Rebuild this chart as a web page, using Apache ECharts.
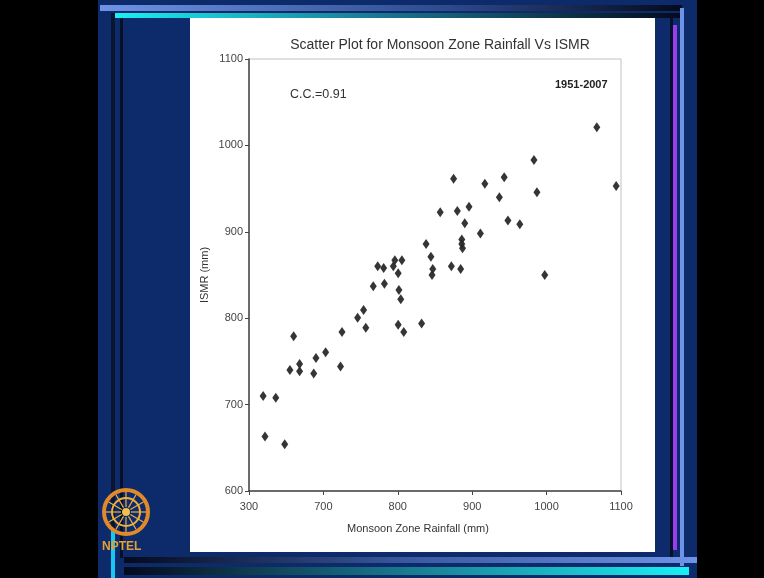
<!DOCTYPE html>
<html>
<head>
<meta charset="utf-8">
<script src="https://cdn.jsdelivr.net/npm/echarts@6/dist/echarts.min.js"></script>
<style>html,body{margin:0;padding:0;background:#000;}#c{width:764px;height:578px;}</style>
</head>
<body>
<div id="c"></div>
<script>
// Data: [Monsoon Zone Rainfall (mm), ISMR (mm)]
const rainfall = [619,636,621.5,648,655,668,668,660,687,690,703,723,725,746,754,757,800.5,808,767,773,781,782,794,796,805.5,800.5,801.5,804,832,838,844.5,847,846,872,884.5,886,886,887,857,875,880,895.7,890,911,917,943,936.5,948,964,983,987,1067.5,997.5,1093.5];
const ismr = [710,708,663,654,740,747,738.5,779,736,754,760.5,744,784,800.5,809.5,789,792.5,784,837,860,858,840,860,867,867,852,832.6,822,794,886,871,857,850,860,857,891,886,881,922.5,961.5,924,929,910,898,955.7,963,940,913,908.7,983,945.7,1021,850,953];
const xTickLabels = ['300','700','800','900','1000','1100'];
const yTickLabels = ['600','700','800','900','1000','1100'];

const points = rainfall.map((x, i) => [x, ismr[i]]);
const chart = echarts.init(document.getElementById('c'));
const G = echarts.graphic;
const font = '"Liberation Sans", Arial, sans-serif';

const frame = [
  {type:'rect', shape:{x:98,y:0,width:599,height:578}, style:{fill:'#0d2a6b'}},
  {type:'rect', shape:{x:100,y:5,width:582,height:6}, style:{fill:new G.LinearGradient(0,0,1,0,[{offset:0,color:'#6f93e6'},{offset:0.6,color:'#2c4a8c'},{offset:1,color:'#050a1c'}])}},
  {type:'rect', shape:{x:114,y:13,width:566,height:5}, style:{fill:new G.LinearGradient(0,0,1,0,[{offset:0,color:'#19f0f5'},{offset:0.5,color:'#1a6f8a'},{offset:1,color:'#050a1c'}])}},
  {type:'rect', shape:{x:111,y:13,width:4,height:565}, style:{fill:'#0a1530'}},
  {type:'rect', shape:{x:120,y:18,width:3,height:540}, style:{fill:'#061027'}},
  {type:'rect', shape:{x:680,y:8,width:4,height:558}, style:{fill:'#6f93e6'}},
  {type:'rect', shape:{x:673,y:25,width:4,height:525}, style:{fill:'#9a3cf0'}},
  {type:'rect', shape:{x:670,y:18,width:3,height:540}, style:{fill:'#061027'}},
  {type:'rect', shape:{x:190,y:18,width:465,height:534}, style:{fill:'#ffffff'}},
  {type:'rect', shape:{x:124,y:557,width:573,height:6}, style:{fill:new G.LinearGradient(0,0,1,0,[{offset:0,color:'#050a1c'},{offset:0.5,color:'#3a5aa0'},{offset:1,color:'#6f93e6'}])}},
  {type:'rect', shape:{x:124,y:567,width:565,height:8}, style:{fill:new G.LinearGradient(0,0,1,0,[{offset:0,color:'#050a1c'},{offset:0.5,color:'#1a7a90'},{offset:1,color:'#19f0f5'}])}},
  {type:'rect', shape:{x:111,y:530,width:4,height:48}, style:{fill:'#19c8f0'}},
  // NPTEL logo
  {type:'circle', shape:{cx:126,cy:512,r:22}, style:{fill:'none',stroke:'#e08a2a',lineWidth:4}},
  {type:'circle', shape:{cx:126,cy:512,r:14}, style:{fill:'none',stroke:'#f0b040',lineWidth:2}},
  {type:'circle', shape:{cx:126,cy:512,r:4}, style:{fill:'#f0c050'}},
  {type:'text', style:{x:102,y:541,text:'NPTEL',fill:'#e8a030',font:'bold 12px '+font}}
];
// spokes of the logo
for (let k = 0; k < 12; k++) {
  const a = k * Math.PI / 6;
  frame.push({type:'line', shape:{x1:126+5*Math.cos(a),y1:512+5*Math.sin(a),x2:126+20*Math.cos(a),y2:512+20*Math.sin(a)}, style:{stroke:'#f0b040',lineWidth:1.2}});
}
frame.forEach(e => { e.z = -10; e.silent = true; });

chart.setOption({
  backgroundColor:'#000000',
  animation:false,
  graphic:{elements: frame.concat([
    {type:'text', z:10, style:{x:440,y:38,text:'Scatter Plot for Monsoon Zone Rainfall Vs ISMR',fill:'#333',font:'14px '+font,align:'center'}},
    {type:'text', z:10, style:{x:290,y:88,text:'C.C.=0.91',fill:'#333',font:'12.5px '+font}},
    {type:'text', z:10, style:{x:555,y:79,text:'1951-2007',fill:'#222',font:'bold 11px '+font}},
    {type:'text', z:10, style:{x:418,y:523,text:'Monsoon Zone Rainfall (mm)',fill:'#333',font:'11px '+font,align:'center'}}
  ])},
  grid:{left:249,right:143,top:59,bottom:87,show:true,borderColor:'#c0c0c0',borderWidth:1,backgroundColor:'transparent'},
  xAxis:{type:'value',min:600,max:1100,interval:100,
    axisLine:{lineStyle:{color:'#444',width:1.5}},
    axisTick:{show:true,length:4,lineStyle:{color:'#444'}},
    axisLabel:{color:'#444',fontSize:11,fontFamily:font,margin:10,
      formatter:v=>xTickLabels[Math.round((v-600)/100)]},
    splitLine:{show:false}},
  yAxis:{type:'value',min:600,max:1100,interval:100,
    name:'ISMR (mm)',nameLocation:'middle',nameGap:39,
    nameTextStyle:{color:'#333',fontSize:11,fontFamily:font},
    axisLine:{lineStyle:{color:'#444',width:1.5}},
    axisTick:{show:true,length:4,lineStyle:{color:'#444'}},
    axisLabel:{color:'#444',fontSize:11,fontFamily:font,margin:6,
      formatter:v=>yTickLabels[Math.round((v-600)/100)]},
    splitLine:{show:false}},
  series:[{type:'scatter',data:points,symbol:'diamond',symbolSize:[7,10],
    itemStyle:{color:'#2a2a2a',opacity:0.95}}]
});
</script>
</body>
</html>
